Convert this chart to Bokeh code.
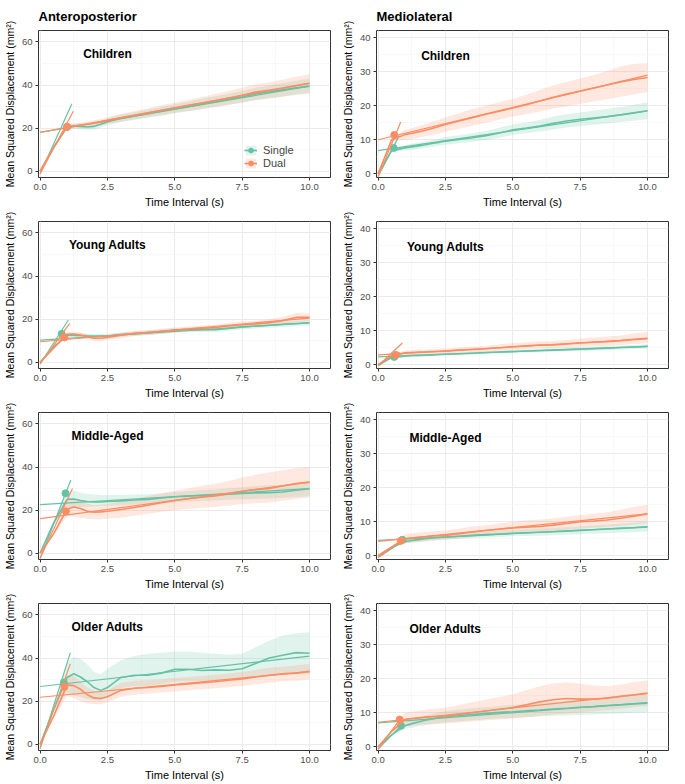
from bokeh.plotting import figure
from bokeh.layouts import gridplot
from bokeh.models import (Range1d, FixedTicker, NumeralTickFormatter, Label,
                          Legend, LegendItem)
from bokeh.embed import file_html
from bokeh.resources import INLINE

FONT = "Liberation Sans"
GREEN = "#66C2A5"
ORANGE = "#FC8D62"

# ---------------- data ----------------
time_s = [0, 0.5, 1.0, 1.25, 1.5, 1.75, 2.0, 2.25, 2.5, 3.0, 3.5, 4.0, 4.5,
          5.0, 5.5, 6.0, 6.5, 7.0, 7.5, 8.0, 8.5, 9.0, 9.5, 10.0]
x_ticks = [0, 2.5, 5, 7.5, 10]
ap_y_ticks = [0, 20, 40, 60]
ml_y_ticks = [0, 10, 20, 30, 40]
groups = ["Single", "Dual"]
age_groups = ["Children", "Young Adults", "Middle-Aged", "Older Adults"]
directions = ["Anteroposterior", "Mediolateral"]

# --- Anteroposterior / Children
ap_ch_s_msd = [0, 11, 20.5, 21, 20.8, 20.5, 20.8, 21.8, 23, 24.5, 25.6, 26.7, 27.8, 29, 30, 31.2, 32.3, 33.4, 34.5, 35.8, 36.8, 37.8, 38.7, 39.5]
ap_ch_s_lo = [0, 10.5, 19.5, 19.8, 19.5, 19.2, 19.4, 20.3, 21.4, 22.8, 23.8, 24.8, 25.8, 26.9, 27.8, 28.8, 29.8, 30.8, 31.8, 32.9, 33.8, 34.6, 35.4, 36]
ap_ch_s_hi = [0, 11.5, 21.5, 22.2, 22.1, 21.8, 22.2, 23.3, 24.6, 26.2, 27.4, 28.6, 29.8, 31.1, 32.2, 33.6, 34.8, 36, 37.2, 38.7, 39.8, 41, 42, 43]
ap_ch_d_msd = [0, 11, 20.7, 21, 21.4, 21.8, 22.3, 22.9, 23.5, 24.8, 26, 27.1, 28.3, 29.5, 30.6, 31.7, 32.8, 34, 35.3, 36.7, 37.6, 38.6, 39.8, 40.8]
ap_ch_d_lo = [0, 10.5, 19.7, 19.9, 20.2, 20.5, 20.9, 21.4, 21.9, 23, 24.1, 25, 26, 27.1, 28, 28.9, 29.8, 30.8, 31.9, 33.1, 33.9, 34.7, 35.7, 36.5]
ap_ch_d_hi = [0, 11.5, 21.7, 22.1, 22.6, 23.1, 23.7, 24.4, 25.1, 26.6, 27.9, 29.2, 30.6, 31.9, 33.2, 34.5, 35.8, 37.2, 38.7, 40.3, 41.3, 42.5, 43.9, 45]
ap_ch_s_short = ([0, 1.18], [-1.2, 31.3])
ap_ch_d_short = ([0, 1.23], [-1.2, 27.8])
ap_ch_s_long = ([0, 10], [18.0, 39.5])
ap_ch_d_long = ([0, 10], [18.0, 40.8])
ap_ch_s_crit = ([1.0], [20.5])
ap_ch_d_crit = ([1.0], [20.7])

# --- Mediolateral / Children
ml_ch_s_msd = [0, 6.8, 7.6, 7.9, 8.2, 8.5, 8.9, 9.2, 9.6, 10.1, 10.6, 11.2, 12, 12.9, 13.4, 14, 14.8, 15.5, 16, 16.4, 16.8, 17.3, 17.9, 18.5]
ml_ch_s_lo = [0, 6.5, 6.8, 7, 7.3, 7.6, 7.9, 8.2, 8.5, 9, 9.4, 9.9, 10.6, 11.4, 11.9, 12.4, 13, 13.6, 14, 14.4, 14.8, 15.2, 15.6, 16]
ml_ch_s_hi = [0, 7.2, 8.4, 8.8, 9.2, 9.5, 9.9, 10.3, 10.8, 11.3, 11.9, 12.6, 13.5, 14.5, 15.1, 15.8, 16.8, 17.5, 18, 18.5, 19, 19.6, 20.3, 21]
ml_ch_d_msd = [0, 10, 11.5, 11.9, 12.3, 12.8, 13.3, 13.9, 14.5, 15.5, 16.5, 17.5, 18.4, 19.3, 20.3, 21.4, 22.5, 23.4, 24.3, 25.2, 26.1, 27, 27.7, 28.3]
ml_ch_d_lo = [0, 9.5, 10, 10.3, 10.6, 11, 11.4, 11.9, 12.4, 13.2, 14.1, 15, 15.9, 16.8, 17.5, 18.3, 19.1, 19.8, 20.5, 21.2, 21.9, 22.6, 23.3, 24]
ml_ch_d_hi = [0, 10.5, 13, 13.4, 14, 14.6, 15.2, 15.9, 16.6, 17.8, 19, 20, 21, 22, 23.2, 24.6, 26, 27, 28, 29, 30.2, 31.5, 32.3, 32.5]
ml_ch_s_short = ([0, 0.78], [-0.8, 11.2])
ml_ch_d_short = ([0, 0.84], [-0.8, 15.2])
ml_ch_s_long = ([0, 10], [6.8, 18.5])
ml_ch_d_long = ([0, 10], [10.0, 29.0])
ml_ch_s_crit = ([0.58], [7.6])
ml_ch_d_crit = ([0.6], [11.4])

# --- Anteroposterior / Young Adults
ap_ya_s_msd = [0, 7, 12.5, 12.6, 12.4, 12.2, 12.1, 12.1, 12.2, 12.8, 13.3, 13.7, 14.2, 14.8, 15.1, 15.2, 15.1, 15.7, 16.4, 16.8, 17.2, 17.6, 18, 18.3]
ap_ya_s_lo = [0, 6.7, 11.5, 11.6, 11.4, 11.2, 11.1, 11.1, 11.2, 11.8, 12.3, 12.7, 13.2, 13.8, 14.1, 14.1, 14, 14.6, 15.2, 15.6, 16, 16.3, 16.7, 17]
ap_ya_s_hi = [0, 7.3, 13.5, 13.6, 13.4, 13.2, 13.1, 13.1, 13.2, 13.8, 14.3, 14.7, 15.2, 15.8, 16.1, 16.3, 16.2, 16.8, 17.6, 18, 18.4, 18.9, 19.3, 19.6]
ap_ya_d_msd = [0, 6.5, 13, 13.1, 12.6, 11.8, 11.2, 11.1, 11.5, 12.5, 13.4, 13.8, 14.3, 14.9, 15.3, 15.7, 16.1, 16.8, 17.4, 17.8, 18.4, 19.3, 20.8, 20.8]
ap_ya_d_lo = [0, 6.2, 12, 12, 11.4, 10.6, 10, 9.9, 10.3, 11.3, 12.2, 12.6, 13.1, 13.7, 14.1, 14.4, 14.8, 15.4, 15.9, 16.3, 16.8, 17.6, 18.8, 19]
ap_ya_d_hi = [0, 6.8, 14, 14.2, 13.8, 13, 12.4, 12.3, 12.7, 13.7, 14.6, 15, 15.5, 16.1, 16.6, 17, 17.4, 18.2, 18.9, 19.3, 20, 21, 22.8, 22.6]
ap_ya_s_short = ([0, 1.05], [-0.8, 19.6])
ap_ya_d_short = ([0, 1.1], [-0.8, 18.0])
ap_ya_s_long = ([0, 10], [10.3, 18.3])
ap_ya_d_long = ([0, 10], [9.5, 20.5])
ap_ya_s_crit = ([0.8], [13.2])
ap_ya_d_crit = ([0.9], [11.5])

# --- Mediolateral / Young Adults
ml_ya_s_msd = [0, 2.1, 2.6, 2.7, 2.75, 2.8, 2.9, 3.0, 3.1, 3.25, 3.4, 3.6, 3.75, 3.9, 4.05, 4.2, 4.3, 4.45, 4.6, 4.75, 4.9, 5.05, 5.2, 5.4]
ml_ya_s_lo = [0, 1.9, 2.2, 2.3, 2.35, 2.4, 2.5, 2.6, 2.7, 2.85, 3.0, 3.15, 3.3, 3.45, 3.6, 3.7, 3.8, 3.9, 4.05, 4.2, 4.3, 4.45, 4.6, 4.75]
ml_ya_s_hi = [0, 2.3, 3.0, 3.1, 3.15, 3.2, 3.3, 3.4, 3.5, 3.65, 3.8, 4.05, 4.2, 4.35, 4.5, 4.7, 4.8, 5.0, 5.15, 5.3, 5.5, 5.65, 5.8, 6.05]
ml_ya_d_msd = [0, 2.6, 3.5, 3.6, 3.7, 3.75, 3.85, 3.9, 4.0, 4.3, 4.5, 4.7, 5.0, 5.3, 5.55, 5.8, 5.8, 6.1, 6.4, 6.6, 6.8, 7.1, 7.5, 7.8]
ml_ya_d_lo = [0, 2.3, 2.8, 2.9, 2.95, 3.0, 3.1, 3.15, 3.25, 3.5, 3.7, 3.9, 4.1, 4.35, 4.55, 4.75, 4.8, 5.0, 5.2, 5.4, 5.6, 5.8, 6.1, 6.4]
ml_ya_d_hi = [0, 2.9, 4.2, 4.3, 4.45, 4.5, 4.6, 4.7, 4.8, 5.1, 5.35, 5.6, 6.0, 6.4, 6.6, 6.9, 7.0, 7.3, 7.7, 8.0, 8.3, 8.6, 9.2, 9.6]
ml_ya_s_short = ([0, 0.8], [-0.3, 3.6])
ml_ya_d_short = ([0, 0.9], [-0.3, 6.4])
ml_ya_s_long = ([0, 10], [2.3, 5.4])
ml_ya_d_long = ([0, 10], [2.9, 7.6])
ml_ya_s_crit = ([0.6], [2.3])
ml_ya_d_crit = ([0.66], [2.9])

# --- Anteroposterior / Middle-Aged
ap_ma_s_msd = [0, 14, 25, 25.2, 24.5, 24, 23.8, 23.8, 24, 24.3, 24.7, 25, 25.6, 26.2, 26.5, 26.8, 27, 27.4, 27.8, 28, 28.1, 28.4, 29.2, 30]
ap_ma_s_lo = [0, 13, 21.5, 21.5, 21.5, 21.6, 21.8, 21.9, 22, 22.3, 22.6, 22.9, 23.3, 23.7, 24, 24.3, 24.5, 24.8, 25.1, 25.2, 25.4, 25.7, 26.1, 26.5]
ap_ma_s_hi = [0, 15, 28.5, 29, 28.2, 27.5, 27.2, 27, 27, 27, 27.2, 27.4, 27.8, 28.4, 28.9, 29.3, 29.6, 30.1, 30.6, 31.2, 31.5, 31.8, 32.5, 33.3]
ap_ma_d_msd = [0, 9, 20.5, 21.5, 20.8, 19.5, 19, 19.2, 19.5, 20.3, 21.2, 22.3, 23.4, 24.5, 25.3, 26, 26.6, 27.6, 28.8, 29.5, 30.1, 31.2, 32.3, 33]
ap_ma_d_lo = [0, 8.5, 17, 17, 16.5, 16, 15.8, 15.8, 16, 16.5, 17.4, 18.3, 19.2, 20, 20.6, 21.1, 21.5, 22.1, 22.8, 23.2, 23.6, 24.3, 25.2, 26]
ap_ma_d_hi = [0, 9.5, 24, 25.5, 24.8, 23, 22.3, 22.5, 22.9, 24, 25.2, 26.5, 27.7, 29, 30.2, 31.3, 32.2, 33.5, 35.2, 36.4, 37.5, 38.5, 39.5, 40]
ap_ma_s_short = ([0, 1.14], [-2.5, 34.0])
ap_ma_d_short = ([0, 1.2], [-2.3, 30.0])
ap_ma_s_long = ([0, 10], [22.6, 30.0])
ap_ma_d_long = ([0, 10], [16.1, 33.0])
ap_ma_s_crit = ([0.94], [27.8])
ap_ma_d_crit = ([0.96], [19.5])

# --- Mediolateral / Middle-Aged
ml_ma_s_msd = [0, 2.5, 4.2, 4.5, 4.75, 5.0, 5.2, 5.35, 5.5, 5.75, 6.0, 6.2, 6.4, 6.6, 6.75, 6.9, 7.05, 7.25, 7.45, 7.65, 7.85, 8.05, 8.25, 8.5]
ml_ma_s_lo = [0, 2.3, 3.6, 3.9, 4.1, 4.3, 4.5, 4.6, 4.75, 5.0, 5.2, 5.4, 5.5, 5.7, 5.8, 5.9, 6.0, 6.2, 6.3, 6.5, 6.6, 6.8, 6.9, 7.1]
ml_ma_s_hi = [0, 2.7, 4.8, 5.1, 5.4, 5.7, 5.9, 6.1, 6.3, 6.6, 6.9, 7.1, 7.4, 7.6, 7.8, 8.0, 8.2, 8.4, 8.7, 8.9, 9.2, 9.4, 9.7, 10.0]
ml_ma_d_msd = [0, 2.5, 5.0, 5.2, 5.4, 5.6, 5.8, 5.9, 6.0, 6.5, 7.0, 7.4, 7.8, 8.2, 8.4, 8.6, 9.0, 9.5, 10.0, 10.2, 10.5, 11.0, 11.6, 12.3]
ml_ma_d_lo = [0, 2.2, 3.6, 3.8, 4.0, 4.2, 4.4, 4.6, 4.7, 5.1, 5.5, 5.9, 6.2, 6.5, 6.7, 6.9, 7.2, 7.6, 8.0, 8.2, 8.5, 8.8, 9.2, 9.6]
ml_ma_d_hi = [0, 2.8, 6.4, 6.6, 6.8, 7.0, 7.2, 7.3, 7.4, 8.0, 8.6, 9.0, 9.5, 10.0, 10.4, 10.6, 11.0, 11.5, 12.0, 12.3, 12.8, 13.5, 14.4, 15.0]
ml_ma_s_short = ([0, 1.0], [-0.5, 4.6])
ml_ma_d_short = ([0, 0.96], [-0.5, 5.0])
ml_ma_s_long = ([0, 10], [4.5, 8.5])
ml_ma_d_long = ([0, 10], [4.2, 12.3])
ml_ma_s_crit = ([0.9], [4.7])
ml_ma_d_crit = ([0.84], [4.4])

# --- Anteroposterior / Older Adults
ap_oa_s_msd = [0, 16, 31, 32.7, 31.2, 29, 26.3, 25, 26.3, 31, 32, 32, 33, 34.8, 34.8, 34.2, 34.5, 34.3, 35, 37.5, 40, 41.3, 42.5, 42.2]
ap_oa_s_lo = [0, 15, 24, 22.5, 22, 21, 20.5, 20.2, 22, 26, 27, 27, 28, 29, 29.3, 29.3, 29.5, 29.7, 30, 31, 32, 32.3, 32.5, 32.5]
ap_oa_s_hi = [0, 17, 38, 40.5, 39.5, 37, 33.5, 32.5, 35, 39, 41, 42, 42.5, 43, 43, 42.5, 42, 41.5, 42, 45, 48, 50.5, 51.5, 52]
ap_oa_d_msd = [0, 13, 27.5, 27.2, 25.5, 23, 21.5, 21.2, 22, 25, 26, 26.3, 26.8, 27.5, 28, 28.5, 29, 29.7, 30.3, 31.2, 32, 32.7, 33, 33.8]
ap_oa_d_lo = [0, 12, 22.5, 21.5, 20, 19, 18.5, 18.5, 19.5, 22, 23, 23.5, 24, 24.5, 25, 25.5, 26, 26.5, 27, 27.8, 28.5, 29.2, 29.5, 30]
ap_oa_d_hi = [0, 14, 32, 31.5, 29, 26.5, 24.8, 24.3, 25, 28.5, 29.5, 29.8, 30.2, 30.7, 31.2, 31.7, 32.2, 32.8, 33.5, 34.5, 35.5, 36, 36.5, 37.3]
ap_oa_s_short = ([0, 1.12], [-2.0, 42.4])
ap_oa_d_short = ([0, 1.12], [-1.5, 37.3])
ap_oa_s_long = ([0, 10], [26.8, 40.9])
ap_oa_d_long = ([0, 10], [21.8, 33.7])
ap_oa_s_crit = ([0.88], [28.6])
ap_oa_d_crit = ([0.9], [26.6])

# --- Mediolateral / Older Adults
ml_oa_s_msd = [0, 3.5, 6.2, 6.8, 7.3, 7.8, 8.2, 8.5, 8.8, 9.2, 9.5, 9.8, 10.1, 10.3, 10.6, 10.8, 11.1, 11.3, 11.6, 11.8, 12.1, 12.3, 12.6, 12.8]
ml_oa_s_lo = [0, 3.2, 5.2, 5.6, 6.0, 6.4, 6.7, 6.9, 7.2, 7.5, 7.8, 8.1, 8.3, 8.5, 8.7, 8.9, 9.1, 9.2, 9.4, 9.5, 9.7, 9.8, 10.0, 10.1]
ml_oa_s_hi = [0, 3.8, 7.2, 8.0, 8.6, 9.2, 9.7, 10.1, 10.4, 10.9, 11.3, 11.6, 12.0, 12.3, 12.6, 12.9, 13.2, 13.5, 13.8, 14.1, 14.4, 14.7, 15.0, 15.3]
ml_oa_d_msd = [0, 4.5, 8.0, 8.3, 8.5, 8.7, 8.8, 8.9, 9.0, 9.5, 10.0, 10.5, 11.0, 11.5, 12.3, 13.2, 13.8, 14.2, 14.0, 14.0, 14.3, 14.8, 15.3, 15.8]
ml_oa_d_lo = [0, 4.2, 6.0, 6.2, 6.4, 6.5, 6.6, 6.7, 6.8, 7.1, 7.4, 7.7, 8.0, 8.3, 8.7, 9.1, 9.5, 9.8, 10.1, 10.4, 10.8, 11.2, 11.6, 12.0]
ml_oa_d_hi = [0, 4.8, 10.0, 10.3, 10.6, 10.9, 11.1, 11.3, 11.5, 12.3, 13.1, 13.9, 14.6, 15.4, 16.6, 17.8, 18.6, 18.9, 18.6, 18.0, 17.8, 18.2, 19.0, 19.5]
ml_oa_s_short = ([0, 0.95], [-0.7, 7.0])
ml_oa_d_short = ([0, 0.85], [-0.7, 8.5])
ml_oa_s_long = ([0, 10], [7.0, 13.0])
ml_oa_d_long = ([0, 10], [7.2, 15.6])
ml_oa_s_crit = ([0.85], [6.2])
ml_oa_d_crit = ([0.8], [8.0])


def series(msd, lo, hi, short, long_, crit):
    return dict(msd=msd, lo=lo, hi=hi, short=short, long=long_, crit=crit)


AP = [
    (series(ap_ch_s_msd, ap_ch_s_lo, ap_ch_s_hi, ap_ch_s_short, ap_ch_s_long, ap_ch_s_crit),
     series(ap_ch_d_msd, ap_ch_d_lo, ap_ch_d_hi, ap_ch_d_short, ap_ch_d_long, ap_ch_d_crit)),
    (series(ap_ya_s_msd, ap_ya_s_lo, ap_ya_s_hi, ap_ya_s_short, ap_ya_s_long, ap_ya_s_crit),
     series(ap_ya_d_msd, ap_ya_d_lo, ap_ya_d_hi, ap_ya_d_short, ap_ya_d_long, ap_ya_d_crit)),
    (series(ap_ma_s_msd, ap_ma_s_lo, ap_ma_s_hi, ap_ma_s_short, ap_ma_s_long, ap_ma_s_crit),
     series(ap_ma_d_msd, ap_ma_d_lo, ap_ma_d_hi, ap_ma_d_short, ap_ma_d_long, ap_ma_d_crit)),
    (series(ap_oa_s_msd, ap_oa_s_lo, ap_oa_s_hi, ap_oa_s_short, ap_oa_s_long, ap_oa_s_crit),
     series(ap_oa_d_msd, ap_oa_d_lo, ap_oa_d_hi, ap_oa_d_short, ap_oa_d_long, ap_oa_d_crit)),
]
ML = [
    (series(ml_ch_s_msd, ml_ch_s_lo, ml_ch_s_hi, ml_ch_s_short, ml_ch_s_long, ml_ch_s_crit),
     series(ml_ch_d_msd, ml_ch_d_lo, ml_ch_d_hi, ml_ch_d_short, ml_ch_d_long, ml_ch_d_crit)),
    (series(ml_ya_s_msd, ml_ya_s_lo, ml_ya_s_hi, ml_ya_s_short, ml_ya_s_long, ml_ya_s_crit),
     series(ml_ya_d_msd, ml_ya_d_lo, ml_ya_d_hi, ml_ya_d_short, ml_ya_d_long, ml_ya_d_crit)),
    (series(ml_ma_s_msd, ml_ma_s_lo, ml_ma_s_hi, ml_ma_s_short, ml_ma_s_long, ml_ma_s_crit),
     series(ml_ma_d_msd, ml_ma_d_lo, ml_ma_d_hi, ml_ma_d_short, ml_ma_d_long, ml_ma_d_crit)),
    (series(ml_oa_s_msd, ml_oa_s_lo, ml_oa_s_hi, ml_oa_s_short, ml_oa_s_long, ml_oa_s_crit),
     series(ml_oa_d_msd, ml_oa_d_lo, ml_oa_d_hi, ml_oa_d_short, ml_oa_d_long, ml_oa_d_crit)),
]

FW, FH = 292, 147


def make_panel(pair, label, yrange, yticks, yminor, label_y, title=None, legend=False):
    top = title is not None
    p = figure(frame_width=FW, frame_height=FH,
               x_range=Range1d(-0.06, 10.78), y_range=Range1d(*yrange),
               output_backend="svg", toolbar_location=None,
               min_border_top=2 if top else 11, min_border_bottom=0,
               min_border_left=0, min_border_right=8,
               background_fill_color="white", border_fill_color="white")
    if top:
        p.title.text = title
        p.title.text_font = FONT
        p.title.text_font_size = "13px"
        p.title.text_font_style = "bold"
        p.title.align = "left"
        p.title.standoff = 13
        p.title.text_color = "black"
    p.outline_line_color = "#333333"
    p.outline_line_width = 1
    p.xaxis.ticker = FixedTicker(ticks=x_ticks, minor_ticks=[1.25, 3.75, 6.25, 8.75])
    p.yaxis.ticker = FixedTicker(ticks=yticks, minor_ticks=yminor)
    p.xaxis.formatter = NumeralTickFormatter(format="0.0")
    p.xaxis.axis_label = "Time Interval (s)"
    p.yaxis.axis_label = "Mean Squared Displacement (mm\u00b2)"
    for ax in (p.xaxis[0], p.yaxis[0]):
        ax.axis_line_color = None
        ax.major_tick_line_color = "#333333"
        ax.major_tick_in = 0
        ax.major_tick_out = 3
        ax.minor_tick_line_color = None
        ax.major_label_text_color = "#4D4D4D"
        ax.major_label_text_font = FONT
        ax.major_label_text_font_size = "9.5px"
        ax.major_label_standoff = 2
        ax.axis_label_text_font = FONT
        ax.axis_label_text_font_style = "normal"
        ax.axis_label_text_color = "black"
        ax.axis_label_standoff = 3
    p.xaxis.axis_label_text_font_size = "11px"
    p.yaxis.axis_label_text_font_size = "10.5px"
    for g in (p.xgrid[0], p.ygrid[0]):
        g.grid_line_color = "#EBEBEB"
        g.grid_line_width = 1
        g.minor_grid_line_color = "#F5F5F5"
        g.minor_grid_line_width = 0.7

    single, dual = pair
    bands, curves, dots = [], [], []
    for s, c in ((single, GREEN), (dual, ORANGE)):
        bands.append(p.varea(x=time_s, y1=s["lo"], y2=s["hi"], fill_color=c, fill_alpha=0.2))
    for s, c in ((single, GREEN), (dual, ORANGE)):
        curves.append(p.line(time_s, s["msd"], line_color=c, line_width=1.6,
                             line_join="round"))
        p.line(s["long"][0], s["long"][1], line_color=c, line_width=1.2)
        p.line(s["short"][0], s["short"][1], line_color=c, line_width=1.2)
        dots.append(p.scatter(s["crit"][0], s["crit"][1], size=7, color=c))

    p.add_layout(Label(x=2.5, y=label_y, text=label, text_align="center",
                       text_baseline="middle", text_font=FONT, text_font_size="12px",
                       text_font_style="bold", text_color="black"))
    if legend:
        items = [LegendItem(label=groups[i], renderers=[bands[i], curves[i], dots[i]])
                 for i in range(2)]
        lg = Legend(items=items, location=(206, 8), padding=0, margin=0, spacing=1,
                    glyph_width=13, glyph_height=12, label_standoff=6,
                    label_text_font=FONT, label_text_font_size="11px",
                    label_height=12, border_line_color=None,
                    background_fill_alpha=0)
        p.add_layout(lg)
    return p


rows = []
for i, age in enumerate(age_groups):
    left = make_panel(AP[i], age, (-2.9, 65.3), ap_y_ticks, [10, 30, 50], 54.5,
                      title=directions[0] if i == 0 else None, legend=(i == 0))
    right = make_panel(ML[i], age, (-1.1, 42.1), ml_y_ticks, [5, 15, 25, 35], 34.5,
                       title=directions[1] if i == 0 else None)
    rows.append([left, right])

grid = gridplot(rows, toolbar_location=None)
open("out.html", "w").write(file_html(grid, INLINE))
